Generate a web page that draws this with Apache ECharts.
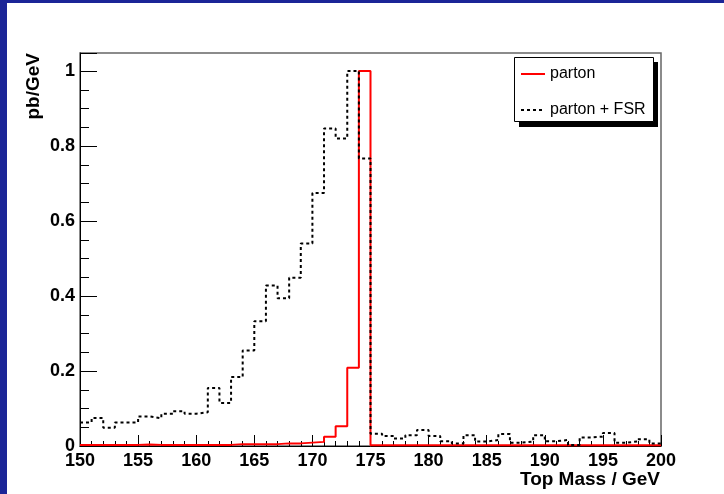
<!DOCTYPE html>
<html>
<head>
<meta charset="utf-8">
<script src="https://cdn.jsdelivr.net/npm/echarts@6/dist/echarts.min.js"></script>
<style>
  html, body { margin: 0; padding: 0; background: #fff; }
  #wrap { position: relative; width: 724px; height: 494px; overflow: hidden; }
  #chart { position: absolute; left: 0; top: 0; width: 724px; height: 494px; }
  .edge { position: absolute; background: #1b2597; }
</style>
</head>
<body>
<div id="wrap">
  <div id="chart"></div>
  <div class="edge" style="left:0;top:0;width:724px;height:3px"></div>
  <div class="edge" style="left:0;top:0;width:7px;height:494px"></div>
</div>
<script>
// bin edges (GeV), 1 GeV bins
const binEdges = [150, 151, 152, 153, 154, 155, 156, 157, 158, 159,
                  160, 161, 162, 163, 164, 165, 166, 167, 168, 169,
                  170, 171, 172, 173, 174, 175, 176, 177, 178, 179,
                  180, 181, 182, 183, 184, 185, 186, 187, 188, 189,
                  190, 191, 192, 193, 194, 195, 196, 197, 198, 199, 200];

// bin contents, pb/GeV (normalised)
const partonValues = [0.003, 0.003, 0.003, 0.003, 0.003, 0.004, 0.003, 0.003, 0.003, 0.003,
                      0.003, 0.003, 0.003, 0.005, 0.005, 0.005, 0.005, 0.007, 0.007, 0.009,
                      0.011, 0.025, 0.053, 0.209, 1.000, 0.002, 0.002, 0.002, 0.002, 0.002,
                      0.002, 0.002, 0.002, 0.002, 0.002, 0.002, 0.002, 0.002, 0.002, 0.002,
                      0.002, 0.002, 0.002, 0.002, 0.002, 0.002, 0.002, 0.002, 0.002, 0.002];

const fsrValues = [0.063, 0.075, 0.049, 0.063, 0.063, 0.079, 0.074, 0.086, 0.093, 0.086,
                   0.090, 0.155, 0.115, 0.184, 0.255, 0.333, 0.428, 0.394, 0.449, 0.540,
                   0.675, 0.847, 0.820, 1.000, 0.767, 0.033, 0.027, 0.020, 0.029, 0.043,
                   0.027, 0.013, 0.007, 0.029, 0.012, 0.016, 0.032, 0.009, 0.012, 0.029,
                   0.013, 0.016, 0.003, 0.023, 0.025, 0.035, 0.009, 0.012, 0.018, 0.007];

const xTicks = [150, 155, 160, 165, 170, 175, 180, 185, 190, 195, 200];
const yTicks = [0, 0.2, 0.4, 0.6, 0.8, 1];

const seriesNames = ['parton', 'parton + FSR'];

// step histogram: point at each low edge, plus closing point at last edge
function histData(values) {
  const pts = values.map(function (v, i) { return [binEdges[i], v]; });
  pts.push([binEdges[binEdges.length - 1], values[values.length - 1]]);
  return pts;
}

const FONT = 'Liberation Sans, Helvetica, Arial, sans-serif';

const chart = echarts.init(document.getElementById('chart'), null, { renderer: 'canvas' });

chart.setOption({
  animation: false,
  backgroundColor: 'transparent',
  grid: {
    left: 80, right: 63, top: 53, bottom: 48,
    show: true, borderColor: '#666', borderWidth: 1.5, backgroundColor: '#fff'
  },
  legend: {
    orient: 'vertical',
    left: 520, top: 66, z: 100,
    padding: 0,
    itemWidth: 24, itemHeight: 14, itemGap: 20,
    itemStyle: { opacity: 0 },   // line only, no marker in the key
    textStyle: { fontFamily: FONT, fontSize: 16, color: '#000' },
    data: seriesNames
  },
  xAxis: {
    type: 'value',
    min: xTicks[0], max: xTicks[xTicks.length - 1], interval: 5,
    axisLine: { show: true, lineStyle: { color: '#000', width: 1 } },
    axisTick: { show: true, inside: true, length: 11, lineStyle: { color: '#000' } },
    minorTick: { show: true, splitNumber: 5, length: 5, lineStyle: { color: '#000' } },
    splitLine: { show: false },
    axisLabel: {
      margin: 6,
      fontFamily: FONT, fontWeight: 'bold', fontSize: 18, color: '#000'
    }
  },
  yAxis: {
    type: 'value',
    min: 0, max: 1.048, interval: 0.2,
    axisLine: { show: true, lineStyle: { color: '#000', width: 1 } },
    axisTick: { show: true, inside: true, length: 17, lineStyle: { color: '#000' } },
    minorTick: { show: true, splitNumber: 4, length: 9, lineStyle: { color: '#000' } },
    splitLine: { show: false },
    axisLabel: {
      margin: 5,
      fontFamily: FONT, fontWeight: 'bold', fontSize: 18, color: '#000',
      formatter: function (v) {
        const hit = yTicks.find(function (t) { return Math.abs(t - v) < 1e-6; });
        return hit === undefined ? '' : String(hit);
      }
    }
  },
  graphic: [
    // legend box with ROOT-style drop shadow
    { type: 'rect', left: 519, top: 62, z: 50, shape: { width: 139, height: 65 }, style: { fill: '#000' } },
    { type: 'rect', left: 514, top: 57, z: 51, shape: { width: 139, height: 64 }, style: { fill: '#fff', stroke: '#000', lineWidth: 1 } },
    {
      type: 'text', x: 34, y: 53, rotation: Math.PI / 2, z: 60,
      style: { text: 'pb/GeV', align: 'right', verticalAlign: 'middle', font: 'bold 19px ' + FONT, fill: '#000' }
    },
    {
      type: 'text', x: 660, y: 480, z: 60,
      style: { text: 'Top Mass / GeV', align: 'right', verticalAlign: 'middle', font: 'bold 19px ' + FONT, fill: '#000' }
    }
  ],
  series: [
    {
      name: seriesNames[0],
      type: 'line', step: 'end', symbol: 'none',
      lineStyle: { color: '#ff0000', width: 2 },
      itemStyle: { color: '#ff0000' },
      data: histData(partonValues)
    },
    {
      name: seriesNames[1],
      type: 'line', step: 'end', symbol: 'none',
      lineStyle: { color: '#000', width: 2, type: [3, 3] },
      itemStyle: { color: '#000' },
      data: histData(fsrValues)
    }
  ]
});
</script>
</body>
</html>
